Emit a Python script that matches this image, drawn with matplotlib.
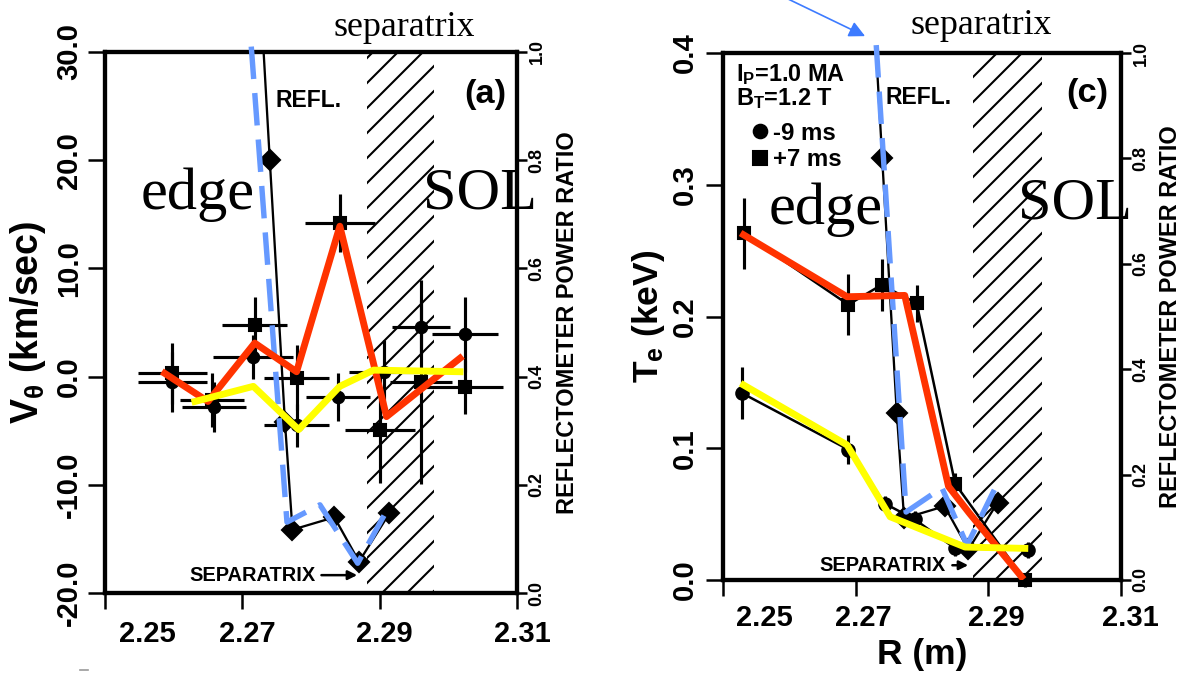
import matplotlib
matplotlib.use("Agg")
import matplotlib.pyplot as plt
import matplotlib.transforms as mtransforms
from matplotlib.lines import Line2D

plt.rcParams.update({
    "font.family": "Liberation Sans",
    "font.weight": "bold",
    "axes.labelweight": "bold",
    "mathtext.fontset": "custom",
    "mathtext.rm": "Liberation Sans:bold",
    "mathtext.it": "Liberation Sans:bold",
    "mathtext.bf": "Liberation Sans:bold",
    "mathtext.default": "bf",
    "hatch.linewidth": 1.0,
    "axes.linewidth": 2.0,
})

DPI = 150
SERIF = "Liberation Serif"
RED = "#ff3300"
YELLOW = "#ffff00"
BLUE = "#6699ff"
ARROW_BLUE = "#3d7bff"

# axes ticks
R_TICKS = [2.25, 2.27, 2.29, 2.31]
R_LABELS = ["2.25", "2.27", "2.29", "2.31"]
REFL_TICKS = [0.0, 0.2, 0.4, 0.6, 0.8, 1.0]
REFL_LABELS = ["0.0", "0.2", "0.4", "0.6", "0.8", "1.0"]
V_TICKS = [-20, -10, 0, 10, 20, 30]
V_LABELS = ["-20.0", "-10.0", "0.0", "10.0", "20.0", "30.0"]
TE_TICKS = [0.0, 0.1, 0.2, 0.3, 0.4]
TE_LABELS = ["0.0", "0.1", "0.2", "0.3", "0.4"]

# reflectometer power ratio (same profile on both panels)
refl_R = [2.2731, 2.2740, 2.2762, 2.2773, 2.2834, 2.2870, 2.2914]
refl_P = [1.00, 0.80, 0.317, 0.117, 0.140, 0.058, 0.147]

# separatrix band (hatched)
sepL = [2.2882, 2.2979]
sepR = [2.2877, 2.2981]

# (a) poloidal velocity, +7 ms (squares)
vsq_R = [2.2598, 2.2656, 2.2718, 2.2779, 2.2842, 2.2901, 2.2960, 2.3024]
vsq_V = [0.3, -2.2, 4.8, -0.1, 14.2, -4.9, -0.5, -1.0]
vsq_dR = [0.0050, 0.0047, 0.0047, 0.0047, 0.0051, 0.0051, 0.0045, 0.0055]
vsq_dV = [2.8, 2.5, 2.6, 3.0, 2.7, 4.9, 9.4, 2.5]
# (a) poloidal velocity, -9 ms (circles)
vci_R = [2.2598, 2.2659, 2.2716, 2.2779, 2.2839, 2.2906, 2.2960, 2.3024]
vci_V = [-0.5, -2.8, 1.8, -4.5, -1.9, 0.4, 4.6, 3.9]
vci_dR = [0.0050, 0.0047, 0.0058, 0.0047, 0.0047, 0.0050, 0.0042, 0.0048]
vci_dV = [2.8, 2.3, 2.0, 2.0, 2.2, 3.0, 2.5, 3.5]

# (a) overlays
redA_R = [2.2587, 2.2650, 2.2718, 2.2779, 2.2842, 2.2910, 2.3017]
redA_V = [0.3, -2.3, 3.1, 0.45, 13.9, -3.7, 1.7]
yelA_R = [2.2631, 2.2716, 2.2782, 2.2842, 2.2891, 2.3017]
yelA_V = [-2.3, -0.9, -4.9, -0.9, 0.6, 0.45]
blueA_R = [2.2713, 2.2765, 2.2813, 2.2868, 2.2915]
blueA_P = [1.01, 0.131, 0.163, 0.055, 0.163]

# (c) electron temperature, +7 ms (squares) and -9 ms (circles)
tsq_R = [2.2531, 2.2689, 2.2739, 2.2792, 2.2850, 2.2955]
tsq_T = [0.263, 0.209, 0.224, 0.210, 0.073, 0.000]
tsq_dT = [0.027, 0.023, 0.020, 0.014, 0.008, 0.005]
tci_R = [2.2528, 2.2689, 2.2744, 2.2789, 2.2850, 2.2960]
tci_T = [0.142, 0.099, 0.058, 0.046, 0.024, 0.023]
tci_dT = [0.020, 0.011, 0.006, 0.006, 0.006, 0.006]

# (c) overlays
redC_R = [2.2531, 2.2687, 2.2774, 2.2840, 2.2871, 2.2950]
redC_T = [0.262, 0.215, 0.216, 0.071, 0.051, 0.0025]
yelC_R = [2.2531, 2.2687, 2.2752, 2.2865, 2.2955]
yelC_T = [0.148, 0.1025, 0.048, 0.025, 0.024]
blueC_R = [2.2731, 2.2776, 2.2830, 2.2868, 2.2909]
blueC_P = [1.015, 0.129, 0.175, 0.066, 0.171]


def frame(fig, ax, ylim, yticks, ylabels, ypad, xpad, xshift):
    ax.set_xlim(2.25, 2.31)
    ax.set_ylim(*ylim)
    ax.set_xticks(R_TICKS)
    ax.set_xticklabels(R_LABELS, fontweight="bold")
    ax.set_yticks(yticks)
    ax.set_yticklabels(ylabels, fontweight="bold")
    ax.tick_params(axis="x", direction="out", length=7.5, width=1.2,
                   labelsize=14, pad=xpad)
    ax.tick_params(axis="y", direction="out", length=8, width=1.2,
                   labelsize=14, pad=ypad, labelrotation=90)
    for lab in ax.get_yticklabels():
        lab.set_va("center")
    # old print: tick labels sit slightly right of their ticks
    for tick, dx in zip(ax.xaxis.get_major_ticks(), xshift):
        off = mtransforms.ScaledTranslation(dx / DPI, 0, fig.dpi_scale_trans)
        tick.label1.set_transform(tick.label1.get_transform() + off)

    tw = ax.twinx()
    tw.set_ylim(0, 1.0)
    tw.set_yticks(REFL_TICKS)
    tw.set_yticklabels(REFL_LABELS, fontweight="bold")
    tw.tick_params(axis="y", direction="out", length=5, width=1.2,
                   labelsize=8.6, pad=0.5, labelrotation=90)
    for lab in tw.get_yticklabels():
        lab.set_va("center")
    tw.set_ylabel("REFLECTOMETER POWER RATIO", fontsize=11.3,
                  fontweight="bold")
    tw.yaxis.set_label_coords(1.095, 0.5)
    return tw


def refl_curves(tw, bR, bP):
    tw.plot(refl_R, refl_P, color="black", lw=1.1, marker="D", ms=6.5,
            markevery=list(range(1, len(refl_R))), clip_on=False, zorder=3)
    tw.plot(bR, bP, color=BLUE, lw=2.6, ls=(0, (6, 2.6)), clip_on=False, zorder=4)


def sep_label(ax, x, y, tip):
    ax.annotate("SEPARATRIX", xy=(tip, y), xytext=(x, y),
                xycoords="axes fraction", textcoords="axes fraction",
                ha="center", va="center", fontsize=9.6, fontweight="bold",
                arrowprops=dict(arrowstyle="-|>", color="black", lw=1.2,
                                mutation_scale=9, shrinkA=1, shrinkB=0))


fig = plt.figure(figsize=(1185 / DPI, 677 / DPI), dpi=DPI)

# ---- (a) poloidal velocity -------------------------------------------------
ax_a = fig.add_axes([105 / 1185, 1 - 593 / 677, 412 / 1185, 541 / 677])
ax_a.axvspan(*sepL, fill=False, hatch="//", lw=0, edgecolor="black", zorder=0)
for R, V, dR, dV, mk in ((vci_R, vci_V, vci_dR, vci_dV, "o"),
                         (vsq_R, vsq_V, vsq_dR, vsq_dV, "s")):
    ax_a.errorbar(R, V, xerr=dR, yerr=dV, fmt=mk, color="black", ms=5.5,
                  elinewidth=1.5, capsize=0, zorder=2)
tw_a = frame(fig, ax_a, (-20, 30), V_TICKS, V_LABELS, 2.4, 5.5,
             [42, 5, 5, 5])
ax_a.set_ylabel(r"V$_\theta$ (km/sec)", fontsize=18, fontweight="bold")
ax_a.yaxis.set_label_coords(-0.138, 0.5)
refl_curves(tw_a, blueA_R, blueA_P)
# coloured overlays sit on top of everything in the twin axes
tw_a.plot(redA_R, [(v + 20) / 50 for v in redA_V], color=RED, lw=3.3, zorder=5)
tw_a.plot(yelA_R, [(v + 20) / 50 for v in yelA_V], color=YELLOW, lw=3.3, zorder=5)

ax_a.text(0.727, 1.046, "separatrix", transform=ax_a.transAxes, family=SERIF,
          fontweight="normal", fontsize=17.3, ha="center", va="center")
ax_a.text(0.226, 0.736, "edge", transform=ax_a.transAxes, family=SERIF,
          fontweight="normal", fontsize=29, ha="center", va="center", zorder=6)
tw_a.text(0.910, 0.737, "SOL", transform=tw_a.transAxes, family=SERIF,
          fontweight="normal", fontsize=29, ha="center", va="center",
          clip_on=False, zorder=6)
ax_a.text(0.495, 0.911, "REFL.", transform=ax_a.transAxes, fontsize=11,
          fontweight="bold", ha="center", va="center")
ax_a.text(0.922, 0.921, "(a)", transform=ax_a.transAxes, fontsize=16.5,
          fontweight="bold", ha="center", va="center")
sep_label(ax_a, 0.357, 0.033, 0.612)

# ---- (c) electron temperature ---------------------------------------------
ax_c = fig.add_axes([723 / 1185, 1 - 580 / 677, 398 / 1185, 527 / 677])
ax_c.axvspan(*sepR, fill=False, hatch="//", lw=0, edgecolor="black", zorder=0)
for R, T, dT, mk in ((tci_R, tci_T, tci_dT, "o"), (tsq_R, tsq_T, tsq_dT, "s")):
    ax_c.errorbar(R, T, yerr=dT, fmt="-" + mk, color="black", lw=1.2, ms=6,
                  elinewidth=1.5, capsize=0, zorder=2, clip_on=False)
tw_c = frame(fig, ax_c, (0, 0.4), TE_TICKS, TE_LABELS, 3.8, 4.0,
             [41, 8, 8, 9])
ax_c.set_ylabel(r"T$_e$ (keV)", fontsize=17, fontweight="bold")
ax_c.yaxis.set_label_coords(-0.141, 0.5)
ax_c.set_xlabel("R (m)", fontsize=17, fontweight="bold", labelpad=3)
refl_curves(tw_c, blueC_R, blueC_P)
tw_c.plot(redC_R, [t / 0.4 for t in redC_T], color=RED, lw=3.3, zorder=5)
tw_c.plot(yelC_R, [t / 0.4 for t in yelC_T], color=YELLOW, lw=3.3, zorder=5)

ax_c.text(0.648, 1.053, "separatrix", transform=ax_c.transAxes, family=SERIF,
          fontweight="normal", fontsize=17.3, ha="center", va="center")
tw_c.text(0.259, 0.702, "edge", transform=tw_c.transAxes, family=SERIF,
          fontweight="normal", fontsize=29, ha="center", va="center", zorder=6)
tw_c.text(0.884, 0.712, "SOL", transform=tw_c.transAxes, family=SERIF,
          fontweight="normal", fontsize=29, ha="center", va="center",
          clip_on=False, zorder=6)
ax_c.text(0.492, 0.915, "REFL.", transform=ax_c.transAxes, fontsize=11,
          fontweight="bold", ha="center", va="center")
ax_c.text(0.915, 0.924, "(c)", transform=ax_c.transAxes, fontsize=16.5,
          fontweight="bold", ha="center", va="center")
ax_c.text(0.033, 0.960, r"I$_P$=1.0 MA", transform=ax_c.transAxes,
          fontsize=11.3, fontweight="bold", ha="left", va="center")
ax_c.text(0.033, 0.913, r"B$_T$=1.2 T", transform=ax_c.transAxes,
          fontsize=11.3, fontweight="bold", ha="left", va="center")
handles = [Line2D([], [], ls="none", marker="o", color="black", ms=6.5),
           Line2D([], [], ls="none", marker="s", color="black", ms=6.5)]
ax_c.legend(handles, ["-9 ms", "+7 ms"], loc="upper left",
            bbox_to_anchor=(0.075, 0.87), frameon=False, borderpad=0,
            borderaxespad=0, handlelength=0.6, handletextpad=0.25,
            labelspacing=0.15, prop={"weight": "bold", "size": 11.5})
sep_label(ax_c, 0.402, 0.028, 0.616)
ax_c.annotate("", xy=(0.357, 1.032), xytext=(0.033, 1.15),
              xycoords="axes fraction", textcoords="axes fraction",
              arrowprops=dict(arrowstyle="-|>", color=ARROW_BLUE, lw=0.8,
                              mutation_scale=16, shrinkA=0, shrinkB=0),
              annotation_clip=False)

fig.add_artist(Line2D([80 / 1185, 88 / 1185], [7 / 677, 7 / 677],
                      color="#9a9a9a", lw=0.8))

fig.savefig("out.png", dpi=DPI, facecolor="white")
